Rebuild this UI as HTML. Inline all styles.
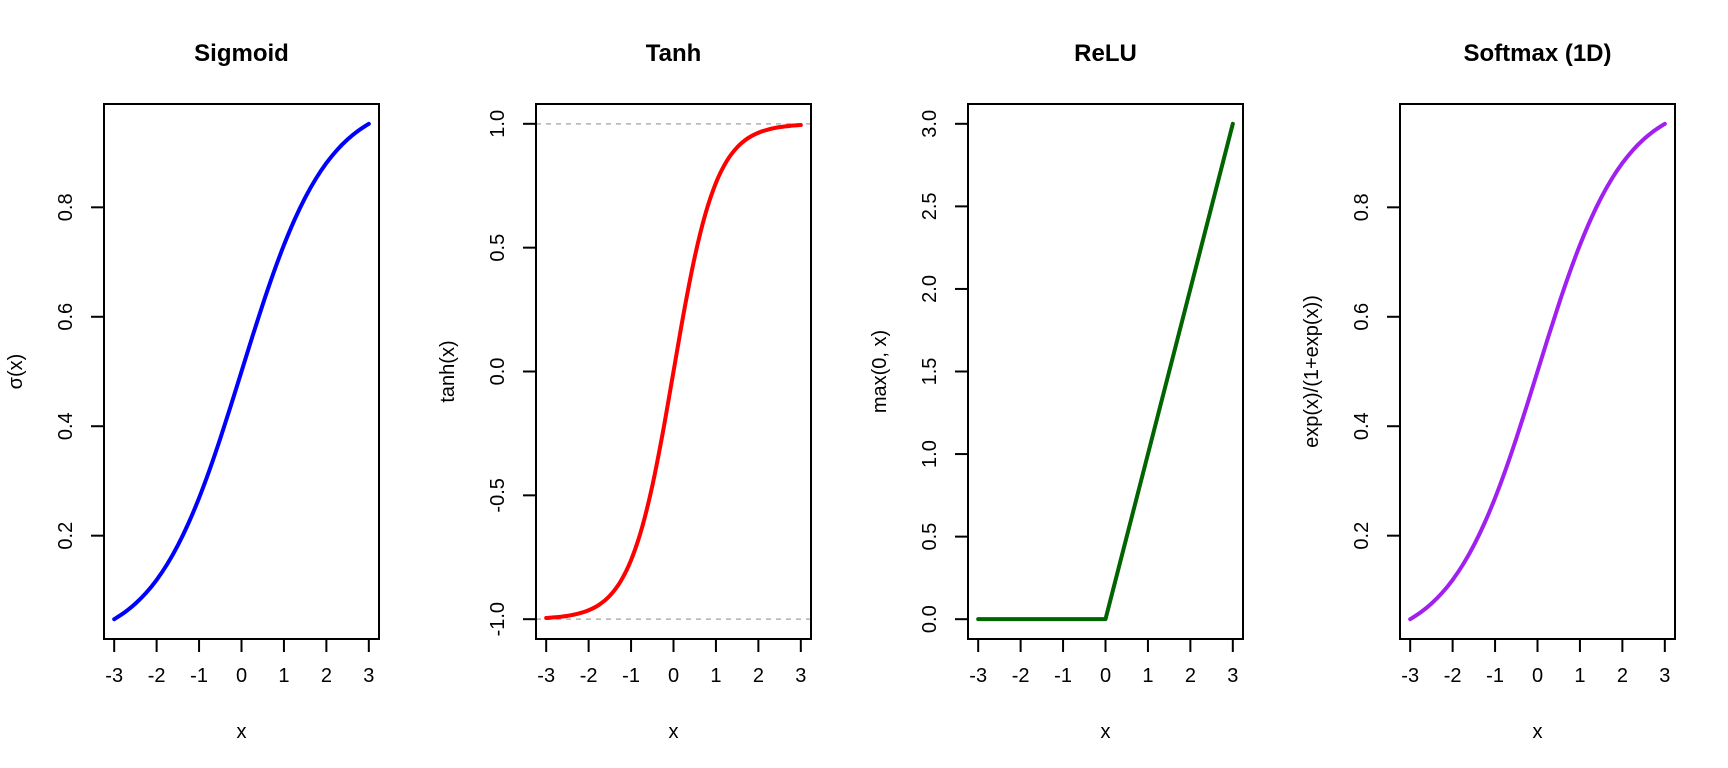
<!DOCTYPE html>
<html><head><meta charset="utf-8"><style>
html,body{margin:0;padding:0;background:#fff;}
svg{display:block;font-family:"Liberation Sans",Arial,sans-serif;}
</style></head><body>
<svg id="chart" width="1728" height="768" viewBox="0 0 1728 768" xmlns="http://www.w3.org/2000/svg"></svg>
<script>
const xs = [-3,-2.75,-2.5,-2.25,-2,-1.75,-1.5,-1.25,-1,-0.75,-0.5,-0.25,0,0.25,0.5,0.75,1,1.25,1.5,1.75,2,2.25,2.5,2.75,3];
const sigmoidVals = [0.0474,0.0601,0.0759,0.0953,0.1192,0.1480,0.1824,0.2227,0.2689,0.3208,0.3775,0.4378,0.5,0.5622,0.6225,0.6792,0.7311,0.7773,0.8176,0.8520,0.8808,0.9047,0.9241,0.9399,0.9526];
const tanhVals = [-0.9951,-0.9918,-0.9866,-0.9780,-0.9640,-0.9414,-0.9051,-0.8483,-0.7616,-0.6351,-0.4621,-0.2449,0,0.2449,0.4621,0.6351,0.7616,0.8483,0.9051,0.9414,0.9640,0.9780,0.9866,0.9918,0.9951];
const reluVals = [0,0,0,0,0,0,0,0,0,0,0,0,0,0.25,0.5,0.75,1,1.25,1.5,1.75,2,2.25,2.5,2.75,3];
const softmaxVals = [0.0474,0.0601,0.0759,0.0953,0.1192,0.1480,0.1824,0.2227,0.2689,0.3208,0.3775,0.4378,0.5,0.5622,0.6225,0.6792,0.7311,0.7773,0.8176,0.8520,0.8808,0.9047,0.9241,0.9399,0.9526];
const xTicks = [-3,-2,-1,0,1,2,3];
const sigTicks = ["0.2","0.4","0.6","0.8"];
const tanhTicks = ["-1.0","-0.5","0.0","0.5","1.0"];
const reluTicks = ["0.0","0.5","1.0","1.5","2.0","2.5","3.0"];
const titles = ["Sigmoid","Tanh","ReLU","Softmax (1D)"];
const yTitles = ["σ(x)","tanh(x)","max(0, x)","exp(x)/(1+exp(x))"];

const NS="http://www.w3.org/2000/svg";
const svg=document.getElementById('chart');
function mk(tag,attrs,parent){const e=document.createElementNS(NS,tag);for(const k in attrs)e.setAttribute(k,attrs[k]);(parent||svg).appendChild(e);return e;}

const panels=[
 {vals:sigmoidVals,ticks:sigTicks,color:"#0000ff",smooth:true,name:"sigmoid"},
 {vals:tanhVals,ticks:tanhTicks,color:"#ff0000",smooth:true,name:"tanh",ref:[-1,1]},
 {vals:reluVals,ticks:reluTicks,color:"#006400",smooth:false,name:"relu"},
 {vals:softmaxVals,ticks:sigTicks,color:"#a020f0",smooth:true,name:"softmax"}
];
const boxL=104,boxR=379,boxT=104,boxB=639;
panels.forEach((p,i)=>{
  const off=i*432;
  const g=mk('g',{});
  
  
  const ymin=Math.min(...p.vals), ymax=Math.max(...p.vals);
  let lo=ymin,hi=ymax;
  if(p.ref){lo=Math.min(lo,p.ref[0]);hi=Math.max(hi,p.ref[1]);}
  const pad=(hi-lo)*0.04; const dlo=lo-pad, dhi=hi+pad;
  const xpad=6*0.04;
  const X=v=>off+boxL+(v-(-3-xpad))/(6+2*xpad)*(boxR-boxL);
  const Y=v=>boxB-(v-dlo)/(dhi-dlo)*(boxB-boxT);
  const cx=off+(boxL+boxR)/2;
  const t=mk('text',{x:cx,y:61,'text-anchor':'middle','font-size':24,'font-weight':'bold',fill:'#000'},g);
  t.textContent=titles[i];
  
  
  if(p.ref){p.ref.forEach(r=>{const l=mk('line',{x1:off+boxL,x2:off+boxR,y1:Y(r),y2:Y(r),stroke:'#b0b0b0','stroke-width':1.5,'stroke-dasharray':'5,5'},g);
    
    });}
  const pts=xs.map((x,k)=>[X(x),Y(p.vals[k])]);
  let d='M'+pts[0][0]+','+pts[0][1];
  if(p.smooth){
    for(let k=0;k<pts.length-1;k++){
      const p0=pts[Math.max(0,k-1)],p1=pts[k],p2=pts[k+1],p3=pts[Math.min(pts.length-1,k+2)];
      const c1=[p1[0]+(p2[0]-p0[0])/6,p1[1]+(p2[1]-p0[1])/6];
      const c2=[p2[0]-(p3[0]-p1[0])/6,p2[1]-(p3[1]-p1[1])/6];
      d+=' C'+c1[0]+','+c1[1]+' '+c2[0]+','+c2[1]+' '+p2[0]+','+p2[1];
    }
  } else { for(let k=1;k<pts.length;k++) d+=' L'+pts[k][0]+','+pts[k][1]; }
  const c=mk('path',{d:d,fill:'none',stroke:p.color,'stroke-width':4,'stroke-linecap':'round','stroke-linejoin':'round'},g);
  
  
  const b=mk('rect',{x:off+boxL,y:boxT,width:boxR-boxL,height:boxB-boxT,fill:'none',stroke:'#000','stroke-width':2},g);
  
  
  xTicks.forEach(v=>{
    mk('line',{x1:X(v),x2:X(v),y1:boxB,y2:boxB+13,stroke:'#000','stroke-width':2},g);
    const tl=mk('text',{x:X(v),y:682,'text-anchor':'middle','font-size':20,fill:'#000'},g);
    tl.textContent=String(v);
    
    
  });
  p.ticks.forEach(s=>{
    const v=parseFloat(s), yy=Y(v);
    mk('line',{x1:off+boxL-13,x2:off+boxL,y1:yy,y2:yy,stroke:'#000','stroke-width':2},g);
    const tl=mk('text',{x:0,y:0,'text-anchor':'middle','font-size':20,fill:'#000',transform:`translate(${off+72},${yy}) rotate(-90)`},g);
    tl.textContent=s;
    
    
  });
  const xl=mk('text',{x:cx,y:738,'text-anchor':'middle','font-size':20,fill:'#000'},g);
  xl.textContent='x';
  
  
  const yl=mk('text',{x:0,y:0,'text-anchor':'middle','font-size':20,fill:'#000',transform:`translate(${off+22},${(boxT+boxB)/2}) rotate(-90)`},g);
  yl.textContent=yTitles[i];
  
  
});
</script>
</body></html>
